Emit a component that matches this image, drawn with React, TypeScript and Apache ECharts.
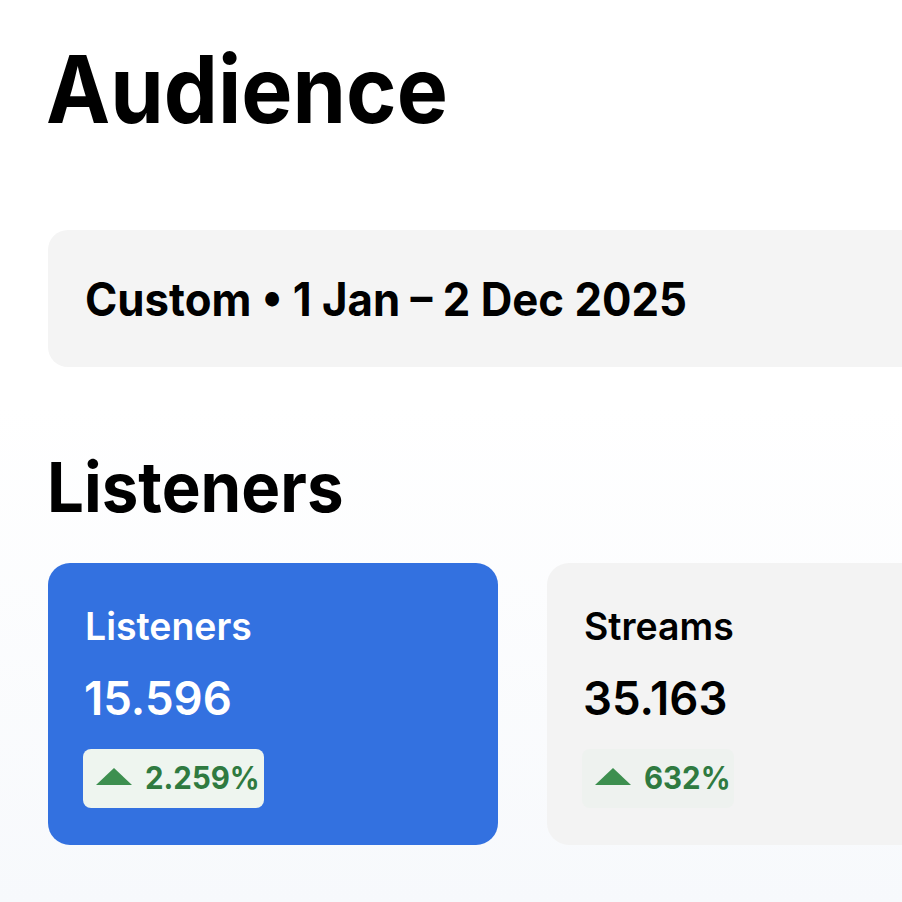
import React, { useEffect, useRef } from "react";
import * as echarts from "echarts";

const pageTitle = "Audience";
const dateRange = "Custom • 1 Jan – 2 Dec 2025";
const sectionTitle = "Listeners";
const metricNames = ["Listeners", "Streams"];
const metricValues = ["15.596", "35.163"];
const metricChanges = ["2.259%", "632%"];

const FONT = "Inter, 'Noto Sans', sans-serif";

function txt(text: string, x: number, y: number, font: string, fill: string, sx: number) {
  return {
    type: "text",
    x,
    y,
    scaleX: sx,
    style: { text, x: 0, y: 0, font, fill, textVerticalAlign: "middle" },
  };
}

export default function App() {
  const ref = useRef<HTMLDivElement>(null);
  useEffect(() => {
    if (!ref.current) return;
    const chart = echarts.init(ref.current, undefined, { renderer: "svg" });
    const W = 902;
    const H = 902;

    const cardX = [48, 547];
    const cardW = [450, 420];
    const cardFill = ["#3371e0", "#f3f3f3"];
    const textFill = ["#ffffff", "#000000"];
    const badgeW = [181, 152];
    const badgeFill = ["#eef5ef", "#eef2ef"];

    const cards: any[] = [];
    metricNames.forEach((name, i) => {
      const x = cardX[i];
      cards.push({
        type: "rect",
        shape: { x, y: 563, width: cardW[i], height: 282, r: 22 },
        style: { fill: cardFill[i] },
      });
      cards.push(txt(name, x + 37, 626, `600 38px ${FONT}`, textFill[i], 0.985));
      cards.push(txt(metricValues[i], x + 36, 698, `600 47px ${FONT}`, textFill[i], 0.97));
      cards.push({
        type: "rect",
        shape: { x: x + 35, y: 749, width: badgeW[i], height: 59, r: 8 },
        style: { fill: badgeFill[i] },
      });
      cards.push({
        type: "polygon",
        shape: {
          points: [
            [x + 48, 785],
            [x + 84, 785],
            [x + 66, 768],
          ],
        },
        style: { fill: "#3d8f4f" },
      });
      cards.push(txt(metricChanges[i], x + 97, 778, `700 31px ${FONT}`, "#2f7a40", 0.95));
    });

    chart.setOption({
      animation: false,
      graphic: [
        {
          type: "rect",
          shape: { x: 0, y: 0, width: W, height: H },
          style: {
            fill: new echarts.graphic.LinearGradient(0, 0, 0, 1, [
              { offset: 0, color: "#ffffff" },
              { offset: 0.45, color: "#ffffff" },
              { offset: 1, color: "#f7f9fc" },
            ]),
          },
        },
        txt(pageTitle, 46, 89, `700 93px ${FONT}`, "#000000", 0.925),
        {
          type: "rect",
          shape: { x: 48, y: 230, width: 900, height: 137, r: 20 },
          style: { fill: "#f4f4f4" },
        },
        txt(dateRange, 85, 300, `700 46px ${FONT}`, "#000000", 0.951),
        txt(sectionTitle, 47, 487, `700 69px ${FONT}`, "#000000", 0.948),
        ...cards,
      ],
    });
    return () => chart.dispose();
  }, []);
  return (
    <div
      ref={ref}
      style={{ width: 902, height: 902, position: "absolute", left: 0, top: 0 }}
    />
  );
}
